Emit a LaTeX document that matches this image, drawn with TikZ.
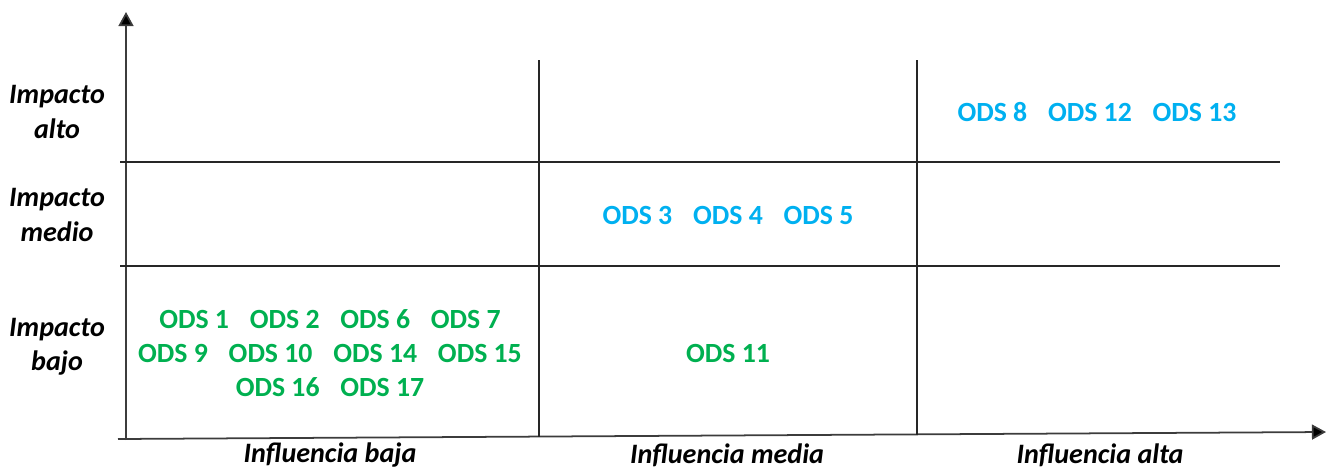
\documentclass[tikz,border=0pt]{standalone}
\usepackage{fontspec}
\setmainfont{Carlito}
\usetikzlibrary{positioning, arrows.meta}
\definecolor{odsBlue}{RGB}{0,176,240}
\definecolor{odsGreen}{RGB}{0,176,80}
\definecolor{axisGray}{RGB}{60,60,60}
\newcommand{\odsgap}{\hspace{0.75em}}

\begin{document}
\begin{tikzpicture}[x=0.02cm, y=-0.02cm,
    axisline/.style={draw=axisGray, line width=1pt, -{Triangle[length=8pt,width=8.5pt,fill=black]}},
    gridline/.style={draw=black!85, line width=0.6pt},
    axislabel/.style={font=\fontsize{16}{19.5}\selectfont\bfseries\itshape, text=black, align=center, inner sep=0pt},
    odsblue/.style={font=\fontsize{15.8}{19}\selectfont\bfseries, text=odsBlue, align=center, inner sep=0pt},
    odsgreen/.style={font=\fontsize{15.8}{19.5}\selectfont\bfseries, text=odsGreen, align=center, inner sep=0pt}]
    \useasboundingbox (0,0) rectangle (1328,470);
    % axes
    \coordinate (yBottom) at (126,440);
    \coordinate (yTop) at (126,12);
    \coordinate (xLeft) at (118,439);
    \coordinate (xRight) at (1326,432);
    \draw[axisline] (yBottom) -- (yTop);
    \draw[axisline] (xLeft) -- (xRight);
    % grid
    \coordinate (vOneTop) at (539,60);
    \coordinate (vOneBot) at (539,437);
    \coordinate (vTwoTop) at (917,60);
    \coordinate (vTwoBot) at (917,435);
    \coordinate (hOneL) at (120,162);
    \coordinate (hOneR) at (1280,162);
    \coordinate (hTwoL) at (120,266);
    \coordinate (hTwoR) at (1280,266);
    \draw[gridline] (vOneTop) -- (vOneBot);
    \draw[gridline] (vTwoTop) -- (vTwoBot);
    \draw[gridline] (hOneL) -- (hOneR);
    \draw[gridline] (hTwoL) -- (hTwoR);
    % axis labels
    \node[axislabel] (impAlto) at (57,112) {Impacto\\alto};
    \node[axislabel] (impMedio) at (57,215) {Impacto\\medio};
    \node[axislabel] (impBajo) at (57,347) {Impacto\\bajo};
    \node[axislabel] (infBaja) at (330,455) {Influencia baja};
    \node[axislabel] (infMedia) at (727,455) {Influencia media};
    \node[axislabel] (infAlta) at (1100,455) {Influencia alta};
    % cells
    \node[odsblue] (cellAltaAlto) at (1097,112) {ODS 8\odsgap ODS 12\odsgap ODS 13};
    \node[odsblue] (cellMediaMedio) at (728,215) {ODS 3\odsgap ODS 4\odsgap ODS 5};
    \node[odsgreen] (cellMediaBajo) at (728,353) {ODS 11};
    \node[odsgreen] (cellBajaBajo) at (330,353) {ODS 1\odsgap ODS 2\odsgap ODS 6\odsgap ODS 7\\
      ODS 9\odsgap ODS 10\odsgap ODS 14\odsgap ODS 15\\
      ODS 16\odsgap ODS 17};
\end{tikzpicture}
\end{document}
